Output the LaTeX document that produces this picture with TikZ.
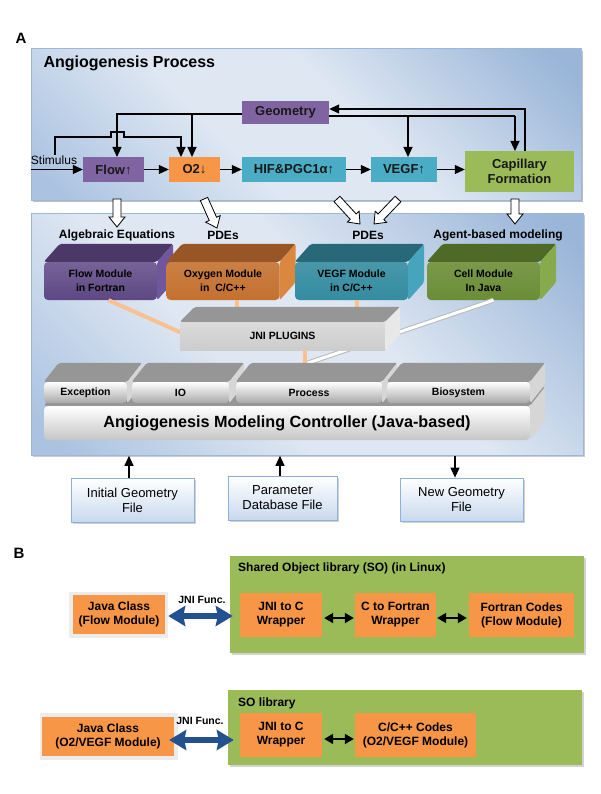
\documentclass[tikz,border=0pt]{standalone}
\usepackage{fontspec}
\setmainfont{Liberation Sans}
\usetikzlibrary{arrows.meta,calc,shadows}
\definecolor{pur}{HTML}{8064A2}
\definecolor{org}{HTML}{F79646}
\definecolor{tea}{HTML}{4BACC6}
\definecolor{grn}{HTML}{9BBB59}
\definecolor{pnlD}{HTML}{99B5D8}
\definecolor{pnlL}{HTML}{DEE7F2}
\definecolor{pnlB}{HTML}{ABC3E1}
\definecolor{pnlE}{HTML}{9FB7D6}
\definecolor{mpF}{HTML}{5E4784}\definecolor{mpT}{HTML}{4B3868}\definecolor{mpS}{HTML}{70569A}
\definecolor{moF}{HTML}{C4712F}\definecolor{moT}{HTML}{985626}\definecolor{moS}{HTML}{DB873F}
\definecolor{mtF}{HTML}{348CA0}\definecolor{mtT}{HTML}{296879}\definecolor{mtS}{HTML}{46A5BD}
\definecolor{mgF}{HTML}{6B8D36}\definecolor{mgT}{HTML}{4E6A26}\definecolor{mgS}{HTML}{86AA4C}
\definecolor{plug}{HTML}{FAC08F}
\definecolor{blu}{HTML}{23508E}
\definecolor{fileB}{HTML}{8FB1D9}
\definecolor{fileF}{HTML}{C8D9EE}
\definecolor{grayT}{HTML}{969696}
\definecolor{grayS}{HTML}{D6D6D6}
\definecolor{grayF}{HTML}{A9A9A9}

\pgfdeclareverticalshading{pnlshade}{100bp}{color(0bp)=(pnlB); color(18bp)=(pnlB); color(40bp)=(pnlL); color(56bp)=(pnlL); color(82bp)=(pnlD); color(100bp)=(pnlD)}

% faces of a pseudo-3D box: node, top colour, side colour, dx, dy
\newcommand{\boxfaces}[5]{%
  \fill[#2, rounded corners=2pt] (#1.north west) -- ++(#4pt,#5pt) -- ($(#1.north east)+(#4pt,#5pt)$) -- (#1.north east) -- cycle;
  \fill[#3, rounded corners=2pt] (#1.north east) -- ++(#4pt,#5pt) -- ($(#1.south east)+(#4pt,#5pt)$) -- (#1.south east) -- cycle;}

% hollow block arrow from coordinate #1 to coordinate #2
\newcommand{\hollowarrow}[2]{%
  \draw[black, fill=white, line width=0.8pt, line join=miter]
    let \p1=($(#2)-(#1)$), \n1={atan2(\y1,\x1)}, \n2={veclen(\x1,\y1)} in
    [shift={(#1)}, rotate=\n1]
    (0pt,4pt) -- ({(\n2-10)*1pt},4pt) -- ({(\n2-10)*1pt},8pt) -- ({\n2*1pt},0pt)
    -- ({(\n2-10)*1pt},-8pt) -- ({(\n2-10)*1pt},-4pt) -- (0pt,-4pt) -- cycle;}

\begin{document}
\begin{tikzpicture}[x=1pt,y=-1pt,
  ln/.style={line width=1.1pt},
  arr/.style={line width=1.1pt, -{Triangle[length=10pt,width=9pt]}},
  darr/.style={line width=1.8pt, {Triangle[length=9pt,width=10pt]}-{Triangle[length=9pt,width=10pt]}},
  barr/.style={line width=6pt, blu, {Stealth[length=17pt,width=20pt,inset=2pt]}-{Stealth[length=17pt,width=20pt,inset=2pt]}},
  rowbox/.style={minimum height=25pt, inner sep=0pt, align=center, text=black!90, font=\bfseries\fontsize{13}{15}\selectfont},
  panel/.style={anchor=north west, inner sep=0pt, draw=pnlE, line width=0.8pt, shading=pnlshade, shading angle=-45},
  sect/.style={font=\bfseries\fontsize{12}{14}\selectfont},
  modfront/.style={rounded corners=4pt, minimum width=113pt, minimum height=38pt, inner sep=0pt, align=center, font=\bfseries\fontsize{10.5}{14}\selectfont},
  layer/.style={rounded corners=4pt, minimum height=21pt, inner sep=0pt, top color=white, bottom color=grayF, font=\bfseries\fontsize{10.5}{12}\selectfont},
  filebox/.style={draw=fileB, line width=0.8pt, top color=white, bottom color=fileF, inner sep=0pt, align=center, font=\fontsize{13}{15}\selectfont, drop shadow={shadow xshift=1.5pt, shadow yshift=-1.5pt, opacity=0.35}},
  obox/.style={fill=org, inner sep=0pt, align=center, font=\bfseries\fontsize{12}{14}\selectfont},
  gbox/.style={fill=grn, anchor=north west, inner sep=0pt, drop shadow={shadow xshift=1.5pt, shadow yshift=-2pt, opacity=0.35}},
  plugline/.style={plug, line width=4pt}
]
\useasboundingbox[fill=white] (0,0) rectangle (600,794);

%================ Panel A (top) =================
\fill[gray!50] (33,51) rectangle (583,202);
\node[panel, minimum width=550pt, minimum height=152pt] (pA) at (31,48) {};
\node[font=\bfseries\fontsize{15}{17}\selectfont] (lblA) at (21,38) {A};
\node[anchor=west, font=\bfseries\fontsize{16}{18}\selectfont] (ttl) at (40,63) {Angiogenesis Process};

\node[rowbox, fill=pur, minimum width=87pt, minimum height=23pt] (geom) at (285.5,112.5) {Geometry};
\node[rowbox, fill=pur, minimum width=61pt] (flow) at (113.5,169.5) {Flow↑};
\node[rowbox, fill=org, minimum width=51pt] (o2) at (194.5,169.5) {O2↓};
\node[rowbox, fill=tea, minimum width=104pt] (hif) at (294,169.5) {HIF\&PGC1α↑};
\node[rowbox, fill=tea, minimum width=66pt] (vegf) at (404,169.5) {VEGF↑};
\node[rowbox, fill=grn, minimum width=109pt, minimum height=41pt] (cap) at (519.5,171.5) {Capillary\\Formation};
\node[font=\fontsize{12}{14}\selectfont, inner sep=0pt] (stim) at (54,160.5) {Stimulus};

% main chain
\draw[arr] (flow.west -| pA.west) -- (flow.west);
\draw[arr] (flow) -- (o2);
\draw[arr] (o2) -- (hif);
\draw[arr] (hif) -- (vegf);
\draw[arr] (vegf.east) -- (vegf.east -| cap.west);
% stimulus branch with a jump over the geometry line
\coordinate (sb) at (55,155);
\draw[arr] (sb) -- (55,137) -- (111,137) -- (111,132) -- (124,132) -- (124,137) -- (181,137) -- (181,157);
% geometry feedback
\coordinate (gw) at ($(geom.west)+(0,1.5)$);
\draw[arr] (gw) -| (117,157);
\draw[arr] (192,114) -- (192,157);
\coordinate (geo) at ($(geom.east)+(0,3.5)$);
\draw[ln] (geo) -- (515,116);
\draw[arr] (515,116) -- (515,151);
\draw[arr] (408,116) -- (408,157);
\coordinate (gin) at ($(geom.east)+(0,-3.5)$);
\draw[arr] (525,151) -- (525,109) -- (gin);

%================ Panel A (bottom) =================
\fill[gray!40] (33,215) rectangle (585,457);
\node[panel, minimum width=552pt, minimum height=242pt] (pB) at (31,213) {};

% hollow arrows
\coordinate (h1s) at (117,199); \coordinate (h1e) at (117,227);
\coordinate (h2s) at (204,199); \coordinate (h2e) at (217,228);
\coordinate (h3s) at (337,199); \coordinate (h3e) at (360,224);
\coordinate (h4s) at (398,199); \coordinate (h4e) at (374,224);
\coordinate (h5s) at (515,199); \coordinate (h5e) at (515,224);
\hollowarrow{h1s}{h1e}
\hollowarrow{h2s}{h2e}
\hollowarrow{h3s}{h3e}
\hollowarrow{h4s}{h4e}
\hollowarrow{h5s}{h5e}

\node[sect] (lalg) at (117,235.5) {Algebraic Equations};
\node[sect] (lpde1) at (223,235.5) {PDEs};
\node[sect] (lpde2) at (368,235.5) {PDEs};
\node[sect] (lagt) at (498,235.5) {Agent-based modeling};

% modules
\node[modfront, top color=mpF!85!white, bottom color=mpF] (flowmod) at (100.5,281) {Flow Module\\in Fortran};
\boxfaces{flowmod}{mpT}{mpS}{16}{18}
\node[modfront, top color=moF!90!white, bottom color=moF] (oxymod) at (223,281) {Oxygen Module\\in\ \ C/C++};
\boxfaces{oxymod}{moT}{moS}{16}{18}
\node[modfront, top color=mtF!90!white, bottom color=mtF] (vegfmod) at (351.5,281) {VEGF Module\\in C/C++};
\boxfaces{vegfmod}{mtT}{mtS}{16}{18}
\node[modfront, top color=mgF!90!white, bottom color=mgF] (cellmod) at (483.5,281) {Cell Module\\In Java};
\boxfaces{cellmod}{mgT}{mgS}{16}{18}

% plug connectors
\coordinate (pjb) at (305,364);
\draw[gray!55, line width=5pt] ([xshift=10pt]cellmod.south) -- (pjb);
\draw[white, line width=3pt] ([xshift=10pt]cellmod.south) -- (pjb);
\draw[plugline] ([xshift=8pt]flowmod.south) -- (182,333);
\draw[plugline] ([xshift=14pt]oxymod.south) -- ++(0,14);
\draw[plugline] ([xshift=5.5pt]vegfmod.south) -- ++(0,14);

% JNI plugins
\node[minimum width=205pt, minimum height=28pt, inner sep=0pt, top color=gray!28, bottom color=gray!40, font=\bfseries\fontsize{10.5}{12}\selectfont] (jni) at (282.5,336) {JNI PLUGINS};
\boxfaces{jni}{grayT}{gray!18}{15}{15}
\draw[plugline] ([xshift=22.5pt]jni.south) -- ++(0,13);

% controller and layers
\node[layer, minimum width=486pt, minimum height=34pt, bottom color=gray!45, font=\bfseries\fontsize{16.2}{18}\selectfont] (ctrl) at (287,423) {Angiogenesis Modeling Controller (Java-based)};
\boxfaces{ctrl}{grayT}{grayS}{15}{19}
\node[layer, minimum width=83pt] (exc) at (85.5,392.5) {Exception};
\boxfaces{exc}{grayT}{grayS}{15}{19}
\node[layer, minimum width=97pt] (io) at (180.5,392.5) {IO};
\boxfaces{io}{grayT}{grayS}{15}{19}
\node[layer, minimum width=146pt] (proc) at (309,392.5) {Process};
\boxfaces{proc}{grayT}{grayS}{15}{19}
\node[layer, minimum width=143pt] (bio) at (458.5,392.5) {Biosystem};
\boxfaces{bio}{grayT}{grayS}{15}{19}

% files
\node[filebox, minimum width=123pt, minimum height=44pt] (finit) at (132.5,500) {Initial Geometry\\File};
\node[filebox, minimum width=109pt, minimum height=44pt] (fparam) at (282.5,498) {Parameter\\Database File};
\node[filebox, minimum width=123pt, minimum height=43pt] (fnew) at (461.5,499.5) {New Geometry\\File};
\draw[arr] ([xshift=-3.5pt]finit.north) -- ([xshift=-3.5pt]finit.north |- pB.south);
\draw[arr] ([xshift=-2.5pt]fparam.north) -- ([xshift=-2.5pt]fparam.north |- pB.south);
\draw[arr] ([xshift=-6.5pt]fnew.north |- pB.south) -- ([xshift=-6.5pt]fnew.north);

%================ Panel B =================
\node[font=\bfseries\fontsize{15}{17}\selectfont] (lblB) at (19,553) {B};

\node[gbox, minimum width=354pt, minimum height=97pt] (so1) at (230,556) {};
\node[anchor=west, sect, inner sep=0pt] (so1t) at (238,568) {Shared Object library (SO) (in Linux)};
\fill[gray!15] (69,592) rectangle (168,638);
\node[obox, minimum width=92pt, minimum height=39pt] (jc1) at (119,614.5) {Java Class\\(Flow Module)};
\node[obox, minimum width=82pt, minimum height=44pt] (jw1) at (281,615) {JNI to C\\Wrapper};
\node[obox, minimum width=81pt, minimum height=44pt] (cf1) at (395.5,615) {C to Fortran\\Wrapper};
\node[obox, minimum width=105pt, minimum height=44pt] (fc1) at (521.5,615) {Fortran Codes\\(Flow Module)};
\node[font=\bfseries\fontsize{10.5}{12}\selectfont] (jf1) at (202,600) {JNI Func.};
\draw[barr, shorten <=3pt, shorten >=7pt] (jc1.east |- 0,616) -- (jw1.west |- 0,616);
\draw[darr, shorten <=2pt, shorten >=1pt] (jw1.east |- 0,618) -- (cf1.west |- 0,618);
\draw[darr, shorten <=1pt, shorten >=2pt] (cf1.east |- 0,618) -- (fc1.west |- 0,618);

\node[gbox, minimum width=354pt, minimum height=75pt] (so2) at (228,690) {};
\node[anchor=west, sect, inner sep=0pt] (so2t) at (238,703) {SO library};
\fill[gray!15] (40,713) rectangle (178,760);
\node[obox, minimum width=132pt, minimum height=39pt] (jc2) at (108,736.5) {Java Class\\(O2/VEGF Module)};
\node[obox, minimum width=82pt, minimum height=44pt] (jw2) at (281,735) {JNI to C\\Wrapper};
\node[obox, minimum width=121pt, minimum height=44pt] (cc2) at (415.5,735) {C/C++ Codes\\(O2/VEGF Module)};
\node[font=\bfseries\fontsize{10.5}{12}\selectfont] (jf2) at (200,721) {JNI Func.};
\draw[barr, shorten <=-5pt, shorten >=6pt] (jc2.east |- 0,740) -- (jw2.west |- 0,740);
\draw[darr, shorten <=2pt, shorten >=1pt] (jw2.east |- 0,739) -- (cc2.west |- 0,739);
\end{tikzpicture}
\end{document}
